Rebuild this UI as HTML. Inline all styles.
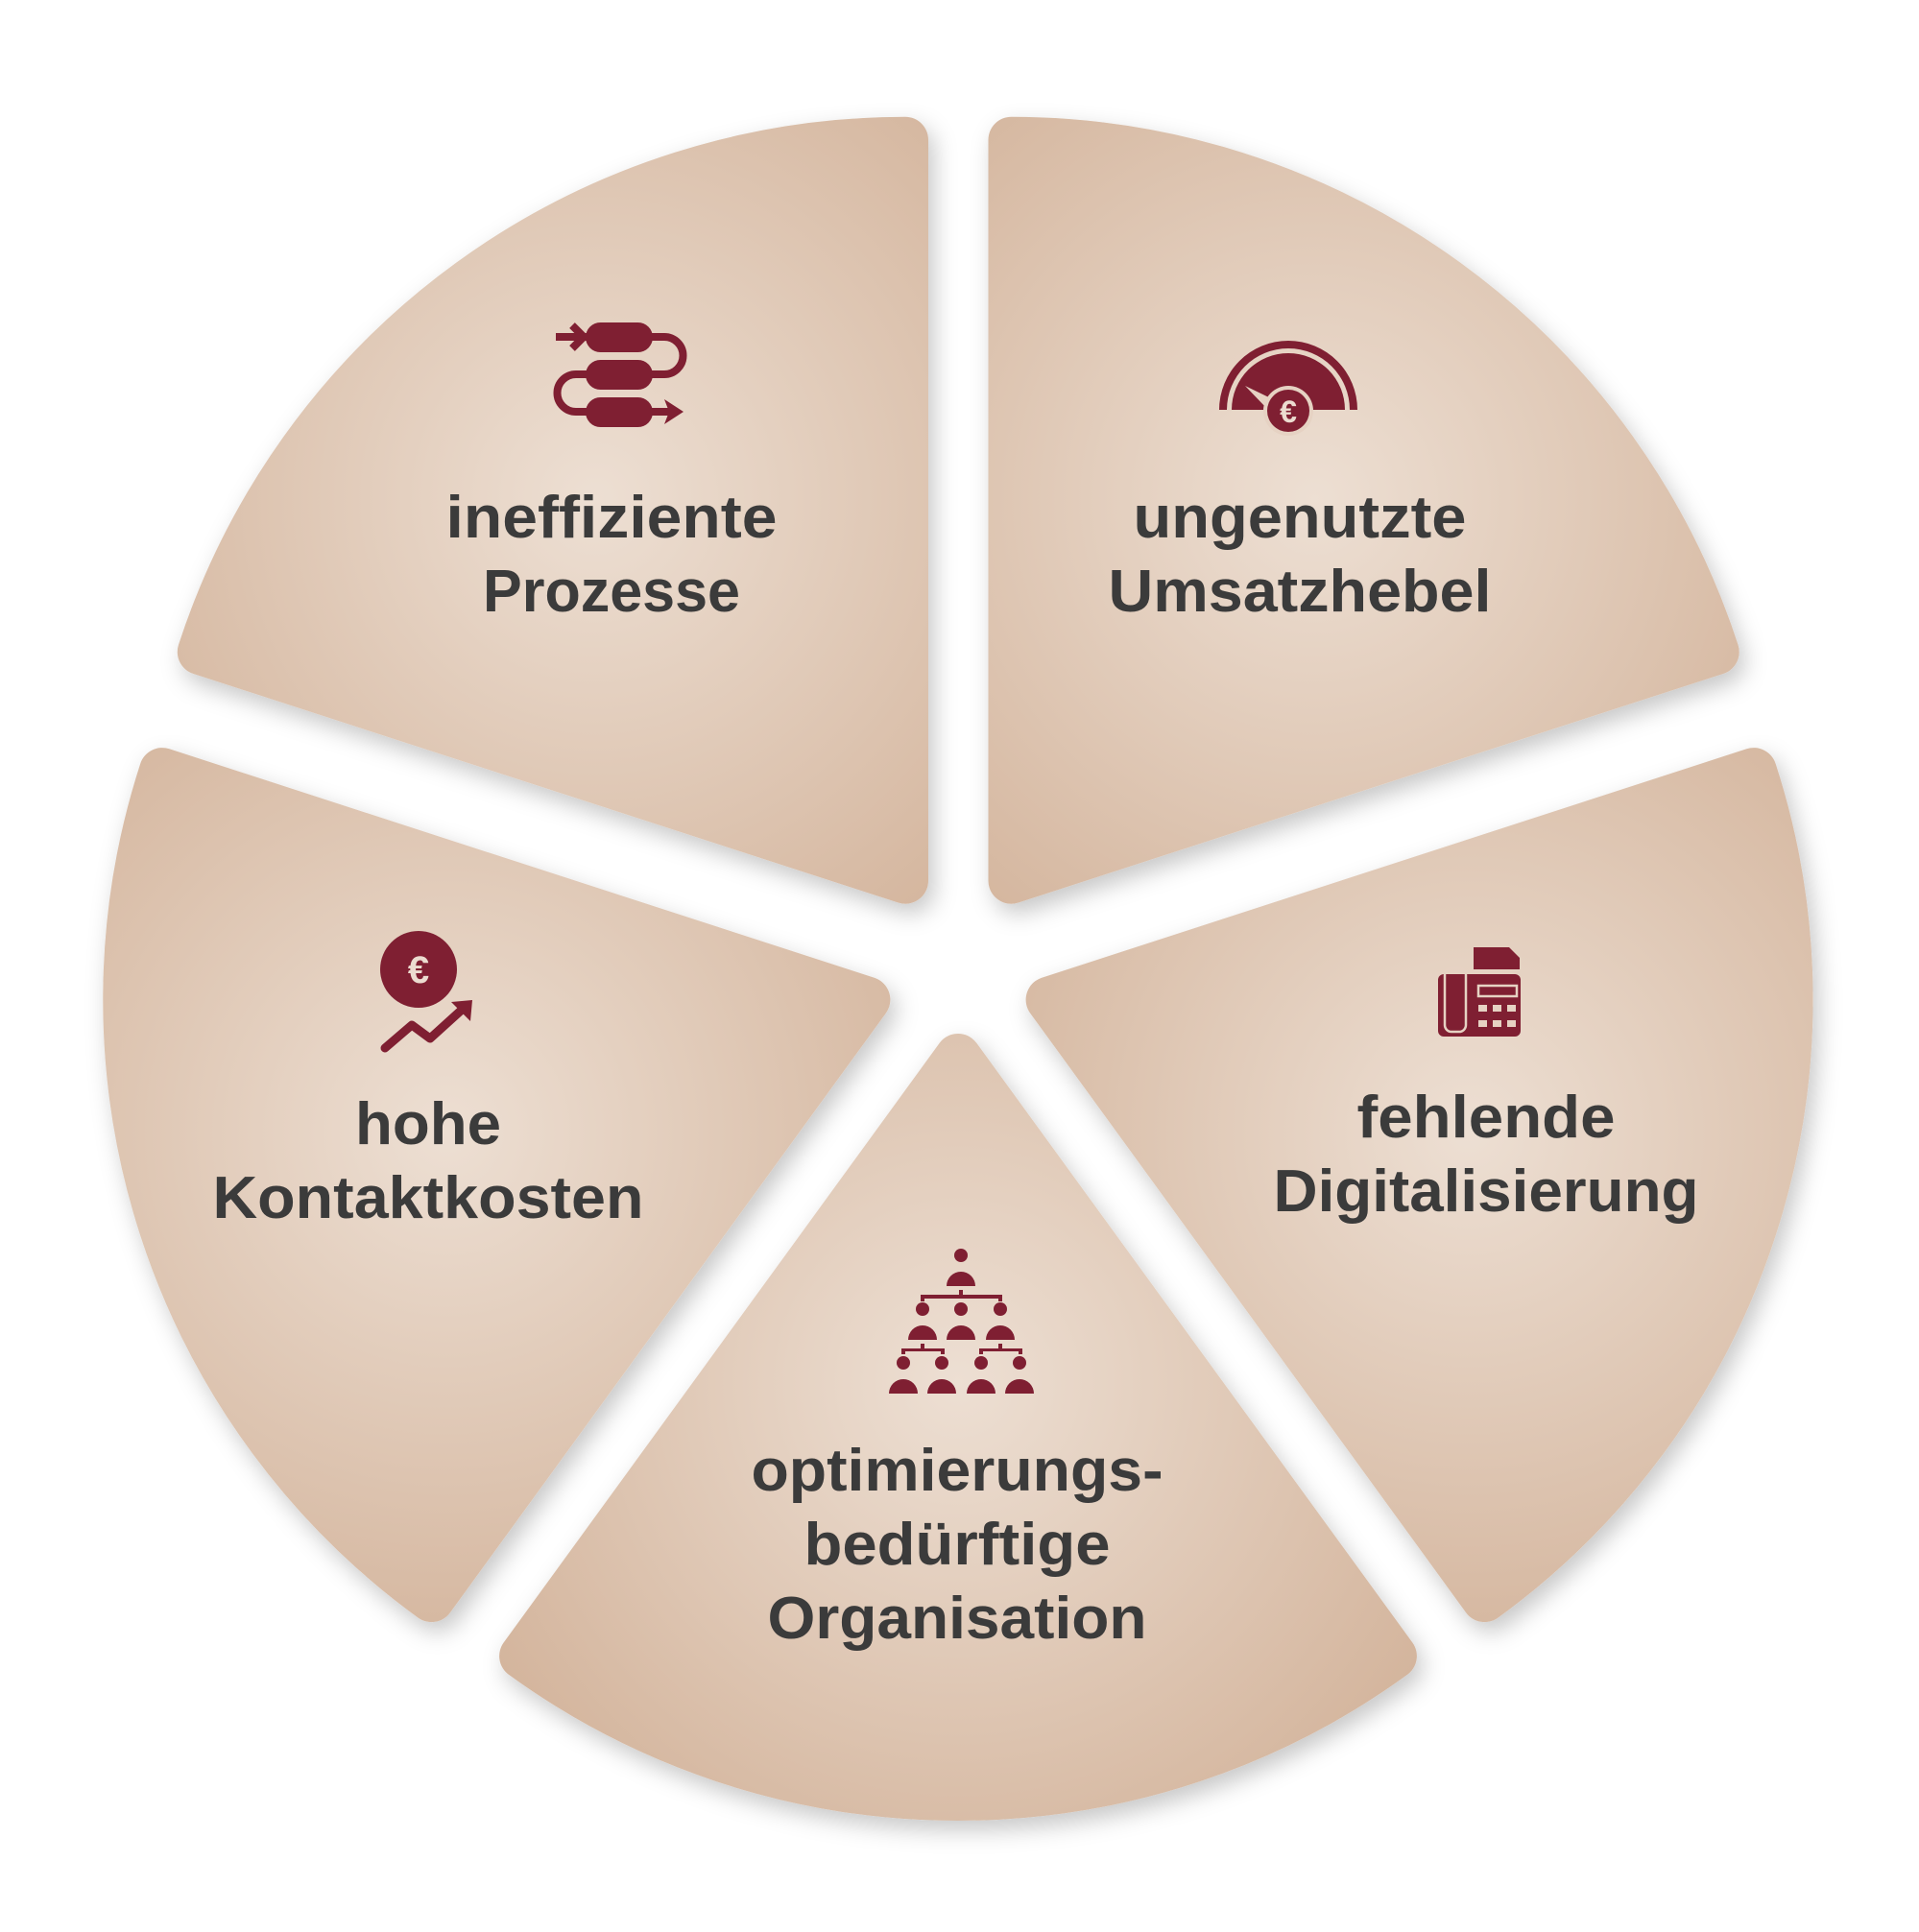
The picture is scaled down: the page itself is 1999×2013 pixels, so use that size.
<!DOCTYPE html>
<html><head><meta charset="utf-8"><style>html,body{margin:0;padding:0;background:#fff}svg{display:block}
text{font-family:"Liberation Sans",sans-serif;font-weight:bold;font-size:62px;fill:#3b3b3b;text-anchor:middle}</style></head>
<body>
<svg width="1999" height="2013" viewBox="0 0 1999 2013" xmlns="http://www.w3.org/2000/svg">
<defs>
<filter id="sh" x="-20%" y="-20%" width="140%" height="140%"><feDropShadow dx="6" dy="10" stdDeviation="12" flood-color="#000" flood-opacity="0.22"/></filter>
<radialGradient id="g1" gradientUnits="userSpaceOnUse" cx="620" cy="520" r="560"><stop offset="0" stop-color="#eddfd3"/><stop offset="1" stop-color="#d4b59d"/></radialGradient>
<radialGradient id="g2" gradientUnits="userSpaceOnUse" cx="1370" cy="520" r="560"><stop offset="0" stop-color="#eddfd3"/><stop offset="1" stop-color="#d4b59d"/></radialGradient>
<radialGradient id="g3" gradientUnits="userSpaceOnUse" cx="1530" cy="1180" r="560"><stop offset="0" stop-color="#eddfd3"/><stop offset="1" stop-color="#d4b59d"/></radialGradient>
<radialGradient id="g4" gradientUnits="userSpaceOnUse" cx="998" cy="1440" r="560"><stop offset="0" stop-color="#eddfd3"/><stop offset="1" stop-color="#d4b59d"/></radialGradient>
<radialGradient id="g5" gradientUnits="userSpaceOnUse" cx="466" cy="1180" r="560"><stop offset="0" stop-color="#eddfd3"/><stop offset="1" stop-color="#d4b59d"/></radialGradient>
</defs>
<g filter="url(#sh)" stroke-width="48" stroke-linejoin="round">
<path d="M943 917.7 L208.8 679.2 A772 772 0 0 1 943 145.7 Z" fill="url(#g1)" stroke="url(#g1)"/>
<path d="M1053.5 917.7 L1053.5 145.7 A772 772 0 0 1 1787.7 679.2 Z" fill="url(#g2)" stroke="url(#g2)"/>
<path d="M1092.6 1041.6 L1826.8 803.1 A772 772 0 0 1 1546.5 1666.1 Z" fill="url(#g3)" stroke="url(#g3)"/>
<path d="M998 1101 L1451.9 1725.5 A772 772 0 0 1 544.1 1725.5 Z" fill="url(#g4)" stroke="url(#g4)"/>
<path d="M903.4 1041.6 L449.5 1666.1 A772 772 0 0 1 169 803.1 Z" fill="url(#g5)" stroke="url(#g5)"/>
</g>
<g fill="#7f1f32" stroke="none">
<rect x="610" y="336" width="70" height="31" rx="15.5"/>
<rect x="610" y="375" width="70" height="31" rx="15.5"/>
<rect x="610" y="414" width="70" height="31" rx="15.5"/>
<g fill="none" stroke="#7f1f32" stroke-width="8">
<path d="M579 351 H612"/>
<path d="M596 339 L608 351 L596 363"/>
<path d="M678 351 H692 A19.5 19.5 0 0 1 692 390 H678"/>
<path d="M612 390 H600 A19.5 19.5 0 0 0 600 429 H612"/>
<path d="M678 429 H706"/>
</g>
<path d="M692 416 L712 429 L692 442 L697 429 Z"/>
<path d="M1270 427 A72 72 0 0 1 1414 427 H1406 A64 64 0 0 0 1278 427 Z"/>
<path d="M1283 427 A59 59 0 0 1 1401 427 Z"/>
<path d="M1297 402 L1330 418 L1322 428 Z" fill="#e6d2c3"/>
<circle cx="1342" cy="428" r="26" fill="#e6d2c3"/>
<circle cx="1342" cy="428" r="22"/>
<text x="1342" y="440" style="font-size:32px;fill:#ecdcd0">€</text>
<circle cx="436" cy="1010" r="40"/>
<text x="436" y="1024" style="font-size:40px;fill:#ecdcd0">€</text>
<path d="M401 1092 L429 1068 L448 1082 L480 1053" fill="none" stroke="#7f1f32" stroke-width="9" stroke-linecap="round" stroke-linejoin="round"/>
<path d="M470 1044 L492 1042 L490 1064 Z"/>
<rect x="1498" y="1015" width="86" height="65" rx="6"/>
<path d="M1535 987 H1572 L1583 998 V1010 H1535 Z"/>
<rect x="1505" y="1009" width="22" height="66" rx="7" fill="none" stroke="#e6d2c3" stroke-width="2.5"/>
<rect x="1540" y="1027" width="40" height="11" fill="none" stroke="#e6d2c3" stroke-width="2.5"/>
<g fill="#e6d2c3"><rect x="1540" y="1047" width="9" height="7"/><rect x="1555" y="1047" width="9" height="7"/><rect x="1570" y="1047" width="9" height="7"/>
<rect x="1540" y="1063" width="9" height="7"/><rect x="1555" y="1063" width="9" height="7"/><rect x="1570" y="1063" width="9" height="7"/></g>
<circle cx="1001" cy="1308" r="7"/><path d="M986 1340 A15 15 0 0 1 1016 1340 Z"/>
<path d="M959 1349 H1044 V1356 H1040 V1353 H963 V1356 H959 Z"/><rect x="999" y="1344" width="4" height="9"/>
<circle cx="961" cy="1364" r="7"/><path d="M946 1396 A15 15 0 0 1 976 1396 Z"/>
<circle cx="1001" cy="1364" r="7"/><path d="M986 1396 A15 15 0 0 1 1016 1396 Z"/>
<circle cx="1042" cy="1364" r="7"/><path d="M1027 1396 A15 15 0 0 1 1057 1396 Z"/>
<path d="M939 1405 H984 V1411 H980 V1408 H943 V1411 H939 Z"/><rect x="959" y="1400" width="4" height="6"/>
<path d="M1020 1405 H1065 V1411 H1061 V1408 H1024 V1411 H1020 Z"/><rect x="1040" y="1400" width="4" height="6"/>
<circle cx="941" cy="1420" r="7"/><path d="M926 1452 A15 15 0 0 1 956 1452 Z"/>
<circle cx="981" cy="1420" r="7"/><path d="M966 1452 A15 15 0 0 1 996 1452 Z"/>
<circle cx="1022" cy="1420" r="7"/><path d="M1007 1452 A15 15 0 0 1 1037 1452 Z"/>
<circle cx="1062" cy="1420" r="7"/><path d="M1047 1452 A15 15 0 0 1 1077 1452 Z"/>
</g>
<g>
<text x="637" y="560" textLength="345" lengthAdjust="spacingAndGlyphs">ineffiziente</text>
<text x="637" y="637" textLength="268" lengthAdjust="spacingAndGlyphs">Prozesse</text>
<text x="1354" y="560" textLength="347" lengthAdjust="spacingAndGlyphs">ungenutzte</text>
<text x="1354" y="637" textLength="399" lengthAdjust="spacingAndGlyphs">Umsatzhebel</text>
<text x="446" y="1192" textLength="152" lengthAdjust="spacingAndGlyphs">hohe</text>
<text x="446" y="1269" textLength="449" lengthAdjust="spacingAndGlyphs">Kontaktkosten</text>
<text x="1548" y="1185" textLength="269" lengthAdjust="spacingAndGlyphs">fehlende</text>
<text x="1548" y="1262" textLength="443" lengthAdjust="spacingAndGlyphs">Digitalisierung</text>
<text x="997" y="1553" textLength="429" lengthAdjust="spacingAndGlyphs">optimierungs-</text>
<text x="997" y="1630" textLength="319" lengthAdjust="spacingAndGlyphs">bedürftige</text>
<text x="997" y="1707" textLength="395" lengthAdjust="spacingAndGlyphs">Organisation</text>
</g>
</svg>
</body></html>
